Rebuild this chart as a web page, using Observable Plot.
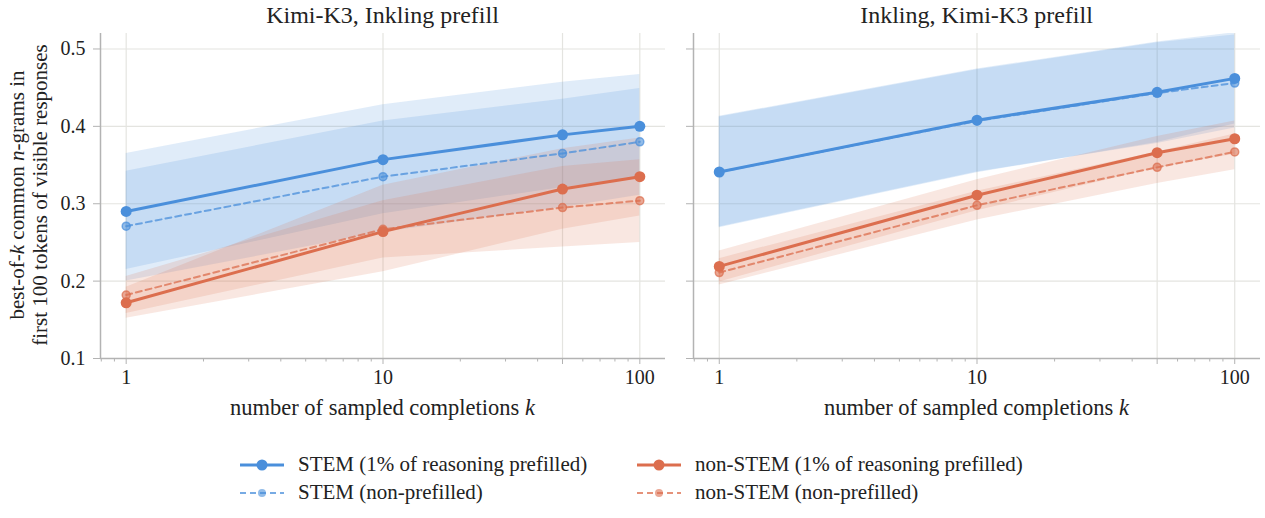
<!DOCTYPE html>
<html>
<head>
<meta charset="utf-8">
<script src="https://cdn.jsdelivr.net/npm/d3@7"></script>
<script src="https://cdn.jsdelivr.net/npm/@observablehq/plot@0.6"></script>
<style>
  html, body { margin: 0; padding: 0; background: #fff; }
  #wrap { position: relative; width: 1265px; height: 518px; font-family: "Liberation Serif", "Times New Roman", Times, "DejaVu Serif", serif; color: #222; }
  .panel { position: absolute; top: 0; }
  #legend { position: absolute; left: 0; top: 448px; width: 1265px; font-size: 21px; }
  .item { position: absolute; display: flex; align-items: center; white-space: nowrap; }
  .item svg { margin-right: 12px; }
</style>
</head>
<body>
<div id="wrap">
  <div class="panel" id="left" style="left:0"></div>
  <div class="panel" id="right" style="left:672px"></div>
  <div id="legend"></div>
</div>
<script>
// ---- data ----
const ks = [1, 10, 50, 100];
const panelTitles = ["Kimi-K3, Inkling prefill", "Inkling, Kimi-K3 prefill"];
const seriesNames = ["STEM (1% of reasoning prefilled)", "STEM (non-prefilled)", "non-STEM (1% of reasoning prefilled)", "non-STEM (non-prefilled)"];

// left panel: Kimi-K3, Inkling prefill
const L_stemPref      = [0.290, 0.357, 0.389, 0.400];
const L_stemPref_lo   = [0.215, 0.287, 0.321, 0.333];
const L_stemPref_hi   = [0.365, 0.428, 0.457, 0.467];
const L_stemNon       = [0.271, 0.335, 0.365, 0.380];
const L_stemNon_lo    = [0.200, 0.263, 0.295, 0.311];
const L_stemNon_hi    = [0.342, 0.407, 0.435, 0.449];
const L_nonPref       = [0.172, 0.264, 0.319, 0.335];
const L_nonPref_lo    = [0.152, 0.212, 0.267, 0.284];
const L_nonPref_hi    = [0.192, 0.324, 0.371, 0.385];
const L_nonNon        = [0.182, 0.267, 0.295, 0.304];
const L_nonNon_lo     = [0.158, 0.230, 0.244, 0.250];
const L_nonNon_hi     = [0.206, 0.304, 0.348, 0.357];

// right panel: Inkling, Kimi-K3 prefill
const R_stemPref      = [0.341, 0.408, 0.444, 0.462];
const R_stemPref_lo   = [0.269, 0.340, 0.379, 0.403];
const R_stemPref_hi   = [0.413, 0.474, 0.509, 0.521];
const R_stemNon       = [0.341, 0.407, 0.443, 0.456];
const R_stemNon_lo    = [0.270, 0.341, 0.378, 0.398];
const R_stemNon_hi    = [0.412, 0.473, 0.508, 0.518];
const R_nonPref       = [0.219, 0.311, 0.366, 0.384];
const R_nonPref_lo    = [0.199, 0.291, 0.346, 0.364];
const R_nonPref_hi    = [0.239, 0.331, 0.387, 0.407];
const R_nonNon        = [0.211, 0.298, 0.347, 0.367];
const R_nonNon_lo     = [0.195, 0.279, 0.326, 0.344];
const R_nonNon_hi     = [0.229, 0.316, 0.367, 0.390];

const majorTicks = [1, 10, 50, 100];
const minorTicks = [0.8, 0.9, 2, 3, 4, 5, 6, 7, 8, 9, 20, 30, 40, 60, 70, 80, 90];
const yTicks = [0.1, 0.2, 0.3, 0.4, 0.5];

const blue = "#4a8fdb";
const orange = "#dc6e4e";
const colors = [blue, blue, orange, orange];
const dashed = [false, true, false, true];

const FONT = '"Liberation Serif", "Times New Roman", Times, "DejaVu Serif", serif';

function rowsFor(sets) {
  const rows = [];
  sets.forEach(([m, lo, hi], si) => {
    ks.forEach((k, i) => rows.push({k, mean: m[i], lo: lo[i], hi: hi[i], s: si}));
  });
  return rows;
}
const leftRows = rowsFor([[L_stemPref, L_stemPref_lo, L_stemPref_hi], [L_stemNon, L_stemNon_lo, L_stemNon_hi], [L_nonPref, L_nonPref_lo, L_nonPref_hi], [L_nonNon, L_nonNon_lo, L_nonNon_hi]]);
const rightRows = rowsFor([[R_stemPref, R_stemPref_lo, R_stemPref_hi], [R_stemNon, R_stemNon_lo, R_stemNon_hi], [R_nonPref, R_nonPref_lo, R_nonPref_hi], [R_nonNon, R_nonNon_lo, R_nonNon_hi]]);

const spine = "#b3b3b3";
const xDomain = [Math.pow(10, -0.1), Math.pow(10, 2.1)];

function panel(rows, opts) {
  const marks = [
    Plot.gridY([0.2, 0.3, 0.4, 0.5], {stroke: "#e4e4e0", strokeOpacity: 1, strokeWidth: 1.2}),
    Plot.gridX(majorTicks, {stroke: "#e4e4e0", strokeOpacity: 1, strokeWidth: 1.2}),
  ];
  [0, 1, 2, 3].forEach(s => {
    const d = rows.filter(r => r.s === s);
    marks.push(Plot.areaY(d, {x: "k", y1: "lo", y2: "hi", fill: colors[s], fillOpacity: 0.17, clip: true}));
  });
  [1, 3, 0, 2].forEach(s => {
    const d = rows.filter(r => r.s === s);
    if (dashed[s]) {
      marks.push(Plot.line(d, {x: "k", y: "mean", stroke: colors[s], strokeWidth: 2, strokeOpacity: 0.75, strokeDasharray: "6,4"}));
      marks.push(Plot.dot(d, {x: "k", y: "mean", r: 4, fill: colors[s], fillOpacity: 0.6, stroke: colors[s], strokeOpacity: 0.7}));
    } else {
      marks.push(Plot.line(d, {x: "k", y: "mean", stroke: colors[s], strokeWidth: 3}));
      marks.push(Plot.dot(d, {x: "k", y: "mean", r: 5.5, fill: colors[s]}));
    }
  });
  marks.push(
    Plot.ruleY([0.1], {stroke: spine, strokeWidth: 1.5}),
    Plot.ruleX([xDomain[0]], {stroke: spine, strokeWidth: 1.5}),
    Plot.axisX(majorTicks, {tickSize: 6, tickPadding: 5, stroke: spine, tickFormat: d => String(d), fontSize: 20, fill: "#222"}),
    Plot.axisX(minorTicks, {tickSize: 3.5, stroke: spine, tickFormat: () => "", label: null}),
    Plot.axisY(yTicks, {tickSize: 7, tickPadding: 8, stroke: spine, tickFormat: opts.yLabels ? (d => d.toFixed(1)) : (() => ""), fontSize: 20, fill: "#222", label: null})
  );
  const svg = Plot.plot({
    width: opts.width,
    height: 420,
    marginLeft: opts.marginLeft,
    marginRight: opts.marginRight,
    marginTop: 33,
    marginBottom: 62,
    style: {fontFamily: FONT, fontSize: "20px", color: "#222", background: "#fff"},
    x: {type: "log", domain: xDomain, label: null},
    y: {domain: [0.1, 0.52], label: null},
    marks
  });
  const cx = opts.marginLeft + (opts.width - opts.marginLeft - opts.marginRight) / 2;
  const s = d3.select(svg);
  s.append("text").attr("x", cx).attr("y", 23).attr("text-anchor", "middle")
    .style("font-size", "24px").style("font-family", FONT).attr("fill", "#222").text(opts.title);
  const xl = s.append("text").attr("x", cx).attr("y", 415).attr("text-anchor", "middle")
    .style("font-size", "22.5px").style("font-family", FONT).attr("fill", "#222");
  xl.append("tspan").text("number of sampled completions ");
  xl.append("tspan").attr("font-style", "italic").text("k");
  if (opts.yLabels) {
    const g = s.append("g").attr("transform", "translate(0,195) rotate(-90)");
    const t1 = g.append("text").attr("x", 0).attr("y", 24).attr("text-anchor", "middle")
      .style("font-size", "21px").style("font-family", FONT).attr("fill", "#222");
    t1.append("tspan").text("best-of-");
    t1.append("tspan").attr("font-style", "italic").text("k");
    t1.append("tspan").text(" common ");
    t1.append("tspan").attr("font-style", "italic").text("n");
    t1.append("tspan").text("-grams in");
    g.append("text").attr("x", 0).attr("y", 47).attr("text-anchor", "middle")
      .style("font-size", "21px").style("font-family", FONT).attr("fill", "#222")
      .text("first 100 tokens of visible responses");
  }
  return svg;
}

document.getElementById("left").appendChild(panel(leftRows, {width: 672, marginLeft: 100, marginRight: 7, yLabels: true, title: panelTitles[0]}));
document.getElementById("right").appendChild(panel(rightRows, {width: 593, marginLeft: 21, marginRight: 5, yLabels: false, title: panelTitles[1]}));

// legend
const legendPos = [[238, 4], [238, 32], [635, 4], [635, 32]];
const legend = document.getElementById("legend");
seriesNames.forEach((name, i) => {
  const div = document.createElement("div");
  div.className = "item";
  div.style.left = legendPos[i][0] + "px";
  div.style.top = legendPos[i][1] + "px";
  const c = colors[i];
  const sw = dashed[i]
    ? `<svg width="48" height="14"><line x1="2" y1="7" x2="46" y2="7" stroke="${c}" stroke-width="2" stroke-opacity="0.75" stroke-dasharray="6,4"/><circle cx="24" cy="7" r="4" fill="${c}" fill-opacity="0.6"/></svg>`
    : `<svg width="48" height="14"><line x1="2" y1="7" x2="46" y2="7" stroke="${c}" stroke-width="3"/><circle cx="24" cy="7" r="5.5" fill="${c}"/></svg>`;
  div.innerHTML = sw + `<span>${name}</span>`;
  legend.appendChild(div);
});
</script>
</body>
</html>
